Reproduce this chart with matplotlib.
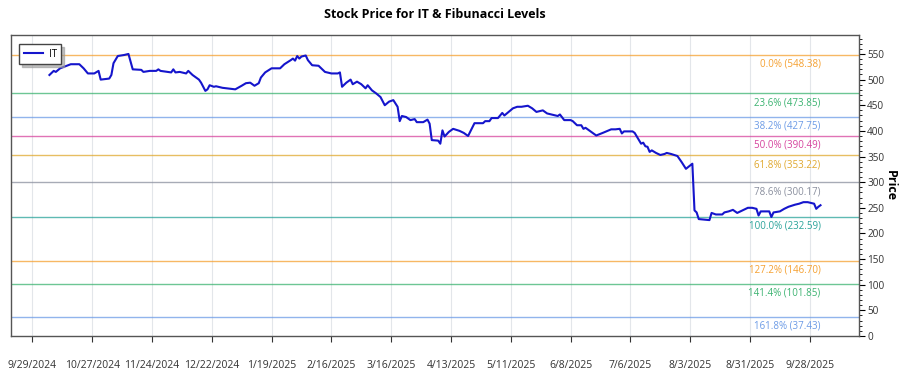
import matplotlib
matplotlib.use("Agg")
import matplotlib.pyplot as plt
import matplotlib.dates as mdates
from matplotlib.ticker import MultipleLocator
import pandas as pd

plt.rcParams['font.family'] = ['Open Sans', 'DejaVu Sans']

ticker = "IT"
dates = [
    "2024-10-07", "2024-10-09", "2024-10-10", "2024-10-12", "2024-10-17", "2024-10-21", "2024-10-23",
    "2024-10-25", "2024-10-28", "2024-10-30", "2024-10-31", "2024-11-04", "2024-11-05", "2024-11-06",
    "2024-11-08", "2024-11-11", "2024-11-13", "2024-11-15", "2024-11-19", "2024-11-20", "2024-11-23",
    "2024-11-26", "2024-11-27", "2024-11-28", "2024-12-03", "2024-12-04", "2024-12-05", "2024-12-07",
    "2024-12-10", "2024-12-11", "2024-12-13", "2024-12-16", "2024-12-17", "2024-12-19", "2024-12-20",
    "2024-12-21", "2024-12-23", "2024-12-24", "2024-12-27", "2025-01-02", "2025-01-05", "2025-01-07",
    "2025-01-09", "2025-01-11", "2025-01-13", "2025-01-14", "2025-01-16", "2025-01-19", "2025-01-23",
    "2025-01-25", "2025-01-28", "2025-01-29", "2025-01-30", "2025-01-31", "2025-02-01", "2025-02-02",
    "2025-02-04", "2025-02-05", "2025-02-07", "2025-02-10", "2025-02-12", "2025-02-13", "2025-02-14",
    "2025-02-16", "2025-02-19", "2025-02-20", "2025-02-21", "2025-02-23", "2025-02-25", "2025-02-26",
    "2025-02-28", "2025-03-02", "2025-03-04", "2025-03-05", "2025-03-07", "2025-03-09", "2025-03-11",
    "2025-03-13", "2025-03-15", "2025-03-17", "2025-03-19", "2025-03-20", "2025-03-21", "2025-03-23",
    "2025-03-25", "2025-03-27", "2025-03-28", "2025-03-31", "2025-04-02", "2025-04-03", "2025-04-04",
    "2025-04-07", "2025-04-08", "2025-04-09", "2025-04-10", "2025-04-12", "2025-04-14", "2025-04-17",
    "2025-04-19", "2025-04-21", "2025-04-24", "2025-04-28", "2025-04-29", "2025-05-01", "2025-05-02",
    "2025-05-05", "2025-05-07", "2025-05-08", "2025-05-12", "2025-05-14", "2025-05-16", "2025-05-19",
    "2025-05-21", "2025-05-23", "2025-05-26", "2025-05-28", "2025-05-30", "2025-06-02", "2025-06-03",
    "2025-06-05", "2025-06-08", "2025-06-09", "2025-06-11", "2025-06-13", "2025-06-14", "2025-06-15",
    "2025-06-20", "2025-06-23", "2025-06-27", "2025-06-29", "2025-07-01", "2025-07-02", "2025-07-03",
    "2025-07-07", "2025-07-08", "2025-07-11", "2025-07-12", "2025-07-13", "2025-07-14", "2025-07-15",
    "2025-07-16", "2025-07-18", "2025-07-20", "2025-07-22", "2025-07-23", "2025-07-25", "2025-07-28",
    "2025-07-30", "2025-08-01", "2025-08-04", "2025-08-05", "2025-08-06", "2025-08-07", "2025-08-12",
    "2025-08-13", "2025-08-15", "2025-08-18", "2025-08-19", "2025-08-21", "2025-08-23", "2025-08-25",
    "2025-08-30", "2025-09-01", "2025-09-03", "2025-09-04", "2025-09-05", "2025-09-09", "2025-09-10",
    "2025-09-11", "2025-09-14", "2025-09-16", "2025-09-18", "2025-09-21", "2025-09-23", "2025-09-25",
    "2025-09-27", "2025-09-29", "2025-09-30", "2025-10-01", "2025-10-02", "2025-10-03",
]
prices = [
    509, 517, 515, 522, 530, 530, 522,
    512, 512, 517, 500, 502, 509, 532,
    546, 548, 550, 520, 519, 515, 517,
    517, 520, 517, 514, 520, 514, 515,
    512, 517, 509, 500, 494, 478, 481,
    489, 486, 487, 484, 481, 488, 493,
    494, 488, 493, 504, 514, 522, 522,
    530, 538, 541, 537, 546, 541, 545,
    547, 538, 528, 527, 519, 515, 514,
    512, 512, 514, 486, 494, 500, 491,
    496, 491, 483, 489, 479, 473, 466,
    450, 457, 460, 447, 419, 429, 427,
    421, 423, 417, 417, 422, 414, 382,
    381, 375, 401, 389, 398, 404, 400,
    396, 390, 415, 415, 419, 419, 425,
    425, 435, 430, 444, 447, 447, 449,
    444, 437, 440, 434, 432, 429, 432,
    421, 421, 419, 411, 411, 404, 406,
    391, 396, 403, 403, 404, 395, 399,
    399, 396, 375, 377, 370, 369, 359,
    362, 357, 353, 355, 357, 355, 351,
    339, 326, 336, 245, 241, 228, 226,
    240, 237, 237, 241, 243, 246, 240,
    250, 250, 248, 235, 243, 243, 232,
    241, 243, 248, 252, 256, 258, 261,
    261, 259, 258, 248, 252, 255,
]

fib_pcts = ["0.0%", "23.6%", "38.2%", "50.0%", "61.8%", "78.6%", "100.0%", "127.2%", "141.4%", "161.8%"]
fib_values = [548.38, 473.85, 427.75, 390.49, 353.22, 300.17, 232.59, 146.70, 101.85, 37.43]
fib_colors = ["#F5A030", "#3CB371", "#6C9BE6", "#D6449E", "#E0A82E", "#8A8F9E", "#2AA39A",
              "#F5A030", "#3CB371", "#6C9BE6"]

x_ticks = pd.date_range("2024-09-29", "2025-09-28", freq="28D")

fig = plt.figure(figsize=(9, 3.75), dpi=100)
ax = fig.add_axes([0.0122, 0.104, 0.9422, 0.8027])

d = pd.to_datetime(dates)
ax.plot(d, prices, color="#1515CC", lw=1.5, label=ticker, zorder=5)

for pct, val, col in zip(fib_pcts, fib_values, fib_colors):
    ax.axhline(val, color=col, lw=1.0, alpha=0.75, zorder=2)
    ax.annotate(f"{pct} ({val:.2f})", xy=(pd.Timestamp("2025-10-03"), val), xytext=(0, -3),
                textcoords="offset points", ha="right", va="top", color=col, fontsize=7)

ax.set_xlim(pd.Timestamp("2024-09-19"), pd.Timestamp("2025-10-21"))
ax.set_ylim(0, 587)
ax.set_xticks(x_ticks)
ax.set_xticklabels([f"{t.month}/{t.day}/{t.year}" for t in x_ticks], fontsize=7.5, color="#333333")
ax.tick_params(axis="x", length=4, pad=13, color="#333333")
ax.grid(axis="x", color="#E3E6EA", lw=0.8, zorder=0)

ax.yaxis.tick_right()
ax.yaxis.set_label_position("right")
ax.yaxis.set_major_locator(MultipleLocator(50))
ax.yaxis.set_minor_locator(MultipleLocator(10))
ax.tick_params(axis="y", which="major", length=4, labelsize=7.2, labelcolor="#333333", pad=2)
ax.tick_params(axis="y", which="minor", length=2)
ax.set_ylabel("Price", rotation=270, fontweight="bold", fontsize=9, labelpad=9)

for s in ax.spines.values():
    s.set_color("#555555")
    s.set_linewidth(1.0)

ax.set_title("Stock Price for IT & Fibunacci Levels", fontweight="bold", fontsize=9, pad=12)

leg = ax.legend(loc="upper left", fontsize=7, frameon=True, shadow={"color": "#999999", "alpha": 0.6},
                fancybox=False, handlelength=2.0, borderpad=0.45, handletextpad=0.6,
                bbox_to_anchor=(0.004, 0.985))
leg.get_frame().set_edgecolor("#444444")

fig.savefig("out.png", dpi=100)
